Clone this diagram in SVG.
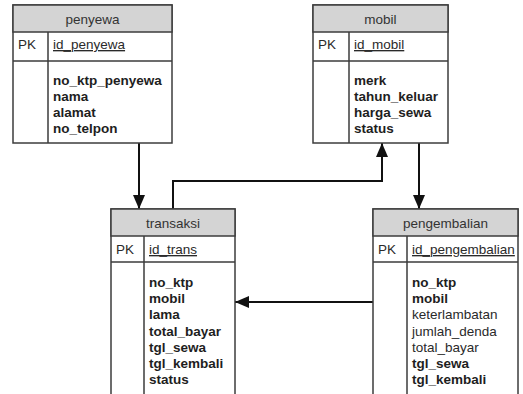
<svg xmlns="http://www.w3.org/2000/svg" width="523" height="394" viewBox="0 0 523 394">
  <style>
    .box { fill: #ffffff; stroke: #3c3c3c; stroke-width: 1.5; }
    .head { fill: #d4d4d4; stroke: #3c3c3c; stroke-width: 1.5; }
    .sep { stroke: #3c3c3c; stroke-width: 1.5; fill: none; }
    text { font-family: "Liberation Sans", Arial, sans-serif; font-size: 13.5px; fill: #2a2a2a; }
    .title { text-anchor: middle; fill: #333333; }
    .key { text-decoration: underline; }
    .b { font-weight: bold; fill: #1e1e1e; }
    .link { stroke: #111111; stroke-width: 2; fill: none; marker-end: url(#arrow); }
  </style>
  <defs>
    <marker id="arrow" markerUnits="userSpaceOnUse" markerWidth="14" markerHeight="14" viewBox="0 0 14 12" refX="14" refY="6" orient="auto">
      <path d="M0,0 L14,6 L0,12 Z" fill="#111111"/>
    </marker>
  </defs>

  <!-- relationships -->
  <g id="connectors">
    <path class="link" d="M139,143 V209"/>
    <path class="link" d="M173,209 V181 H382 V143"/>
    <path class="link" d="M419,143 V209"/>
    <path class="link" d="M373,302 H235"/>
  </g>

  <!-- table: penyewa -->
  <g id="penyewa">
    <rect class="box" x="13" y="5" width="159" height="138"/>
    <rect class="head" x="13" y="5" width="159" height="27"/>
    <path class="sep" d="M13,61 H172 M48,32 V143"/>
    <text class="title" x="92.5" y="23.5">penyewa</text>
    <text x="18" y="49">PK</text>
    <text class="key" x="53" y="49">id_penyewa</text>
    <text class="b" x="53" y="85">no_ktp_penyewa</text>
    <text class="b" x="53" y="101">nama</text>
    <text class="b" x="53" y="117">alamat</text>
    <text class="b" x="53" y="133">no_telpon</text>
  </g>

  <!-- table: mobil -->
  <g id="mobil">
    <rect class="box" x="313" y="5" width="135" height="138"/>
    <rect class="head" x="313" y="5" width="135" height="27"/>
    <path class="sep" d="M313,61 H448 M349,32 V143"/>
    <text class="title" x="380.5" y="23.5">mobil</text>
    <text x="318" y="49">PK</text>
    <text class="key" x="354" y="49">id_mobil</text>
    <text class="b" x="354" y="85">merk</text>
    <text class="b" x="354" y="101">tahun_keluar</text>
    <text class="b" x="354" y="117">harga_sewa</text>
    <text class="b" x="354" y="133">status</text>
  </g>

  <!-- table: transaksi -->
  <g id="transaksi">
    <rect class="box" x="111" y="209" width="124" height="200"/>
    <rect class="head" x="111" y="209" width="124" height="27"/>
    <path class="sep" d="M111,262 H235 M144,236 V409"/>
    <text class="title" x="173" y="227.5">transaksi</text>
    <text x="116" y="254">PK</text>
    <text class="key" x="149" y="254">id_trans</text>
    <text class="b" x="149" y="287">no_ktp</text>
    <text class="b" x="149" y="303">mobil</text>
    <text class="b" x="149" y="319">lama</text>
    <text class="b" x="149" y="336">total_bayar</text>
    <text class="b" x="149" y="352">tgl_sewa</text>
    <text class="b" x="149" y="368">tgl_kembali</text>
    <text class="b" x="149" y="384">status</text>
  </g>

  <!-- table: pengembalian -->
  <g id="pengembalian">
    <rect class="box" x="373" y="209" width="145" height="200"/>
    <rect class="head" x="373" y="209" width="145" height="27"/>
    <path class="sep" d="M373,262 H518 M407,236 V409"/>
    <text class="title" x="445.5" y="227.5">pengembalian</text>
    <text x="378" y="254">PK</text>
    <text class="key" x="412" y="254">id_pengembalian</text>
    <text class="b" x="412" y="287">no_ktp</text>
    <text class="b" x="412" y="303">mobil</text>
    <text x="412" y="319">keterlambatan</text>
    <text x="412" y="336">jumlah_denda</text>
    <text x="412" y="352">total_bayar</text>
    <text class="b" x="412" y="368">tgl_sewa</text>
    <text class="b" x="412" y="384">tgl_kembali</text>
  </g>
</svg>
